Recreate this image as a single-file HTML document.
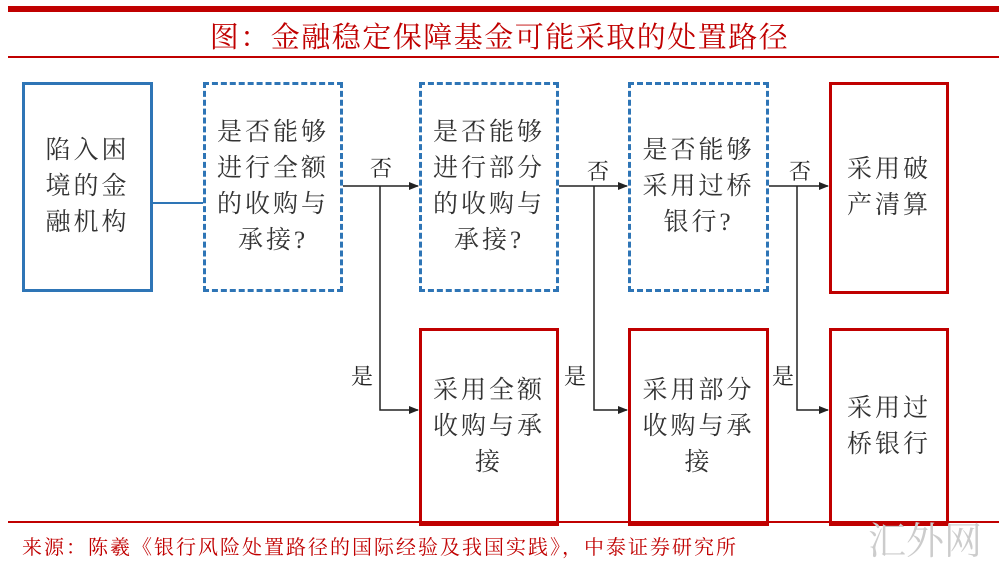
<!DOCTYPE html>
<html><head><meta charset="utf-8"><style>
body{margin:0;width:999px;height:564px;background:#fff;position:relative;overflow:hidden;font-family:"Liberation Serif","Noto Serif CJK SC",serif;}
.a{position:absolute}
.box{position:absolute;box-sizing:border-box;display:flex;align-items:center;justify-content:center;text-align:center;font-size:25px;letter-spacing:3px;line-height:36px;color:#333;}
.blue{border:3px solid #2e75b6}
.dash{border:3px dashed #2e75b6}
.red{border:3px solid #c00000}
.lbl{position:absolute;font-size:22px;color:#222}
</style></head><body>
<div class="a" style="left:8px;top:6px;width:991px;height:6px;background:#c00000"></div>
<div class="a" style="left:0;top:15px;width:999px;text-align:center;font-size:29px;letter-spacing:1.5px;color:#c00000;">图：金融稳定保障基金可能采取的处置路径</div>
<div class="a" style="left:8px;top:56px;width:991px;height:2px;background:#c00000"></div>

<div class="box blue" style="left:22px;top:82px;width:131px;height:210px;">陷入困<br>境的金<br>融机构</div>
<div class="box dash" style="left:203px;top:82px;width:140px;height:210px;">是否能够<br>进行全额<br>的收购与<br>承接?</div>
<div class="box dash" style="left:419px;top:82px;width:140px;height:210px;">是否能够<br>进行部分<br>的收购与<br>承接?</div>
<div class="box dash" style="left:628px;top:82px;width:141px;height:210px;">是否能够<br>采用过桥<br>银行?</div>
<div class="box red" style="left:829px;top:82px;width:120px;height:212px;">采用破<br>产清算</div>
<div class="box red" style="left:419px;top:328px;width:140px;height:198px;">采用全额<br>收购与承<br>接</div>
<div class="box red" style="left:628px;top:328px;width:141px;height:198px;">采用部分<br>收购与承<br>接</div>
<div class="box red" style="left:829px;top:328px;width:120px;height:198px;">采用过<br>桥银行</div>

<svg class="a" style="left:0;top:0" width="999" height="564">
<defs><marker id="m" markerWidth="10" markerHeight="10" refX="9" refY="5" orient="auto" markerUnits="userSpaceOnUse"><path d="M0,1 L10,5 L0,9 z" fill="#222"/></marker></defs>
<line x1="153" y1="203" x2="203" y2="203" stroke="#2e75b6" stroke-width="2"/>
<g stroke="#222" stroke-width="1.5" fill="none">
<line x1="343" y1="186" x2="418" y2="186" marker-end="url(#m)"/>
<polyline points="380,186 380,410 418,410" marker-end="url(#m)"/>
<line x1="559" y1="186" x2="627" y2="186" marker-end="url(#m)"/>
<polyline points="594,186 594,410 627,410" marker-end="url(#m)"/>
<line x1="769" y1="186" x2="828" y2="186" marker-end="url(#m)"/>
<polyline points="797,186 797,410 828,410" marker-end="url(#m)"/>
</g>
</svg>
<div class="lbl" style="left:370px;top:152px">否</div>
<div class="lbl" style="left:587px;top:155px">否</div>
<div class="lbl" style="left:789px;top:155px">否</div>
<div class="lbl" style="left:351px;top:360px">是</div>
<div class="lbl" style="left:564px;top:360px">是</div>
<div class="lbl" style="left:772px;top:360px">是</div>

<div class="a" style="left:8px;top:521px;width:991px;height:2px;background:#c00000"></div>
<div class="a" style="left:22px;top:531px;font-size:20px;letter-spacing:2px;color:#c00000;white-space:nowrap">来源：陈羲《银行风险处置路径的国际经验及我国实践》，中泰证券研究所</div>
<div class="a" style="left:868px;top:510px;font-size:38px;color:#ccc;white-space:nowrap">汇外网</div>
</body></html>
